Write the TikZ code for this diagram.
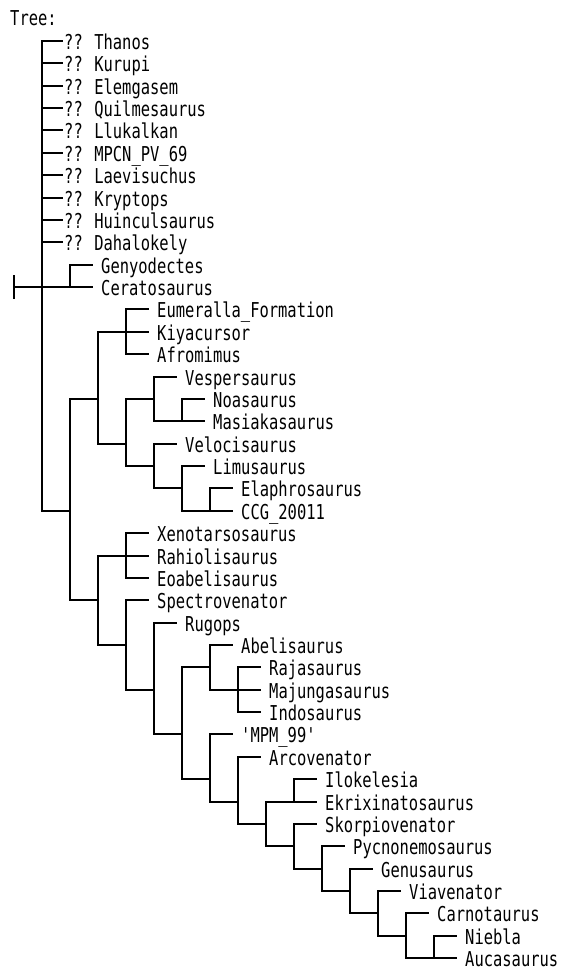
\documentclass[tikz,border=0pt]{standalone}
\usepackage{fontspec}
\newfontfamily\treefont[FakeStretch=0.754]{DejaVu Sans Mono}
\pgfmathdeclarefunction{rw}{1}{\pgfmathparse{round(41+22.37*#1)}}
\tikzset{
  br/.style={draw=black, line width=2pt, line cap=rect, line join=miter},
  leaf/.style={anchor=west, inner xsep=9pt, inner ysep=0pt, text height=18pt, text depth=2pt,
    font=\treefont\fontsize{20.5}{22}\selectfont},
  qleaf/.style={leaf, inner xsep=2pt},
  ttl/.style={anchor=base west, inner sep=0pt, font=\treefont\fontsize{20.5}{22}\selectfont}
}
\newcommand\lf[4]{\node[leaf] (#1) at ({#2+22},{rw(#3)}) {#4};}
\newcommand\ql[3]{\node[qleaf] (#1) at (62,{rw(#2)}) {??\hspace{11.5pt}#3};}
\begin{document}
\begin{tikzpicture}[x=1pt,y=-1pt]
\path[fill=white,use as bounding box] (0,0) rectangle (561,972);
\node[ttl] (title) at (10,25) {Tree:};
% internal nodes
\coordinate (nRoot) at (14,{rw(11)});
\coordinate (nA) at (42,{rw(11)});
\coordinate (nB) at (70,{rw(11)});
\coordinate (nC) at (70,{rw(21)});
\coordinate (nD) at (98,{rw(16)});
\coordinate (nF) at (126,{rw(13)});
\coordinate (nG) at (126,{rw(18)});
\coordinate (nH) at (154,{rw(16)});
\coordinate (nNM) at (182,{rw(17)});
\coordinate (nI) at (154,{rw(19)});
\coordinate (nJ) at (182,{rw(20)});
\coordinate (nK) at (210,{rw(21)});
\coordinate (nE) at (98,{rw(25)});
\coordinate (nL) at (126,{rw(23)});
\coordinate (nM) at (126,{rw(27)});
\coordinate (nN) at (154,{rw(29)});
\coordinate (nO) at (182,{rw(31)});
\coordinate (nP) at (210,{rw(28)});
\coordinate (nR) at (238,{rw(29)});
\coordinate (nQ) at (210,{rw(33)});
\coordinate (nS) at (238,{rw(34)});
\coordinate (nT) at (266,{rw(35)});
\coordinate (nU) at (294,{rw(34)});
\coordinate (nV) at (294,{rw(36)});
\coordinate (nW) at (322,{rw(37)});
\coordinate (nX) at (350,{rw(38)});
\coordinate (nY) at (378,{rw(39)});
\coordinate (nZ) at (406,{rw(40)});
\coordinate (nAA) at (434,{rw(41)});
\coordinate (tickA) at (14,{rw(11)-11});
\coordinate (tickB) at (14,{rw(11)+11});
% leaves
\ql{thanos}{0}{Thanos}
\ql{kurupi}{1}{Kurupi}
\ql{elemgasem}{2}{Elemgasem}
\ql{quilmesaurus}{3}{Quilmesaurus}
\ql{llukalkan}{4}{Llukalkan}
\ql{mpcn}{5}{MPCN\_PV\_69}
\ql{laevisuchus}{6}{Laevisuchus}
\ql{kryptops}{7}{Kryptops}
\ql{huinculsaurus}{8}{Huinculsaurus}
\ql{dahalokely}{9}{Dahalokely}
\lf{genyodectes}{70}{10}{Genyodectes}
\lf{ceratosaurus}{70}{11}{Ceratosaurus}
\lf{eumeralla}{126}{12}{Eumeralla\_Formation}
\lf{kiyacursor}{126}{13}{Kiyacursor}
\lf{afromimus}{126}{14}{Afromimus}
\lf{vespersaurus}{154}{15}{Vespersaurus}
\lf{noasaurus}{182}{16}{Noasaurus}
\lf{masiakasaurus}{182}{17}{Masiakasaurus}
\lf{velocisaurus}{154}{18}{Velocisaurus}
\lf{limusaurus}{182}{19}{Limusaurus}
\lf{elaphrosaurus}{210}{20}{Elaphrosaurus}
\lf{ccg}{210}{21}{CCG\_20011}
\lf{xenotarsosaurus}{126}{22}{Xenotarsosaurus}
\lf{rahiolisaurus}{126}{23}{Rahiolisaurus}
\lf{eoabelisaurus}{126}{24}{Eoabelisaurus}
\lf{spectrovenator}{126}{25}{Spectrovenator}
\lf{rugops}{154}{26}{Rugops}
\lf{abelisaurus}{210}{27}{Abelisaurus}
\lf{rajasaurus}{238}{28}{Rajasaurus}
\lf{majungasaurus}{238}{29}{Majungasaurus}
\lf{indosaurus}{238}{30}{Indosaurus}
\lf{mpm}{210}{31}{'MPM\_99'}
\lf{arcovenator}{238}{32}{Arcovenator}
\lf{ilokelesia}{294}{33}{Ilokelesia}
\lf{ekrixinatosaurus}{294}{34}{Ekrixinatosaurus}
\lf{skorpiovenator}{294}{35}{Skorpiovenator}
\lf{pycnonemosaurus}{322}{36}{Pycnonemosaurus}
\lf{genusaurus}{350}{37}{Genusaurus}
\lf{viavenator}{378}{38}{Viavenator}
\lf{carnotaurus}{406}{39}{Carnotaurus}
\lf{niebla}{434}{40}{Niebla}
\lf{aucasaurus}{434}{41}{Aucasaurus}
% connectors
\draw[br] (tickA) -- (tickB);
\draw[br] (nRoot) |- (nA);
\foreach \t in {thanos,kurupi,elemgasem,quilmesaurus,llukalkan,mpcn,laevisuchus,kryptops,huinculsaurus,dahalokely}
  {\draw[br] (nA) |- (\t.west);}
\draw[br] (nA) |- (nB);
\draw[br] (nA) |- (nC);
\draw[br] (nB) |- (genyodectes.west);
\draw[br] (nB) |- (ceratosaurus.west);
\draw[br] (nC) |- (nD);
\draw[br] (nC) |- (nE);
\draw[br] (nD) |- (nF);
\draw[br] (nD) |- (nG);
\draw[br] (nF) |- (eumeralla.west);
\draw[br] (nF) |- (kiyacursor.west);
\draw[br] (nF) |- (afromimus.west);
\draw[br] (nG) |- (nH);
\draw[br] (nG) |- (nI);
\draw[br] (nH) |- (vespersaurus.west);
\draw[br] (nH) |- (nNM);
\draw[br] (nNM) |- (noasaurus.west);
\draw[br] (nNM) |- (masiakasaurus.west);
\draw[br] (nI) |- (velocisaurus.west);
\draw[br] (nI) |- (nJ);
\draw[br] (nJ) |- (limusaurus.west);
\draw[br] (nJ) |- (nK);
\draw[br] (nK) |- (elaphrosaurus.west);
\draw[br] (nK) |- (ccg.west);
\draw[br] (nE) |- (nL);
\draw[br] (nE) |- (nM);
\draw[br] (nL) |- (xenotarsosaurus.west);
\draw[br] (nL) |- (rahiolisaurus.west);
\draw[br] (nL) |- (eoabelisaurus.west);
\draw[br] (nM) |- (spectrovenator.west);
\draw[br] (nM) |- (nN);
\draw[br] (nN) |- (rugops.west);
\draw[br] (nN) |- (nO);
\draw[br] (nO) |- (nP);
\draw[br] (nO) |- (nQ);
\draw[br] (nP) |- (abelisaurus.west);
\draw[br] (nP) |- (nR);
\draw[br] (nR) |- (rajasaurus.west);
\draw[br] (nR) |- (majungasaurus.west);
\draw[br] (nR) |- (indosaurus.west);
\draw[br] (nQ) |- (mpm.west);
\draw[br] (nQ) |- (nS);
\draw[br] (nS) |- (arcovenator.west);
\draw[br] (nS) |- (nT);
\draw[br] (nT) |- (nU);
\draw[br] (nT) |- (nV);
\draw[br] (nU) |- (ilokelesia.west);
\draw[br] (nU) |- (ekrixinatosaurus.west);
\draw[br] (nV) |- (skorpiovenator.west);
\draw[br] (nV) |- (nW);
\draw[br] (nW) |- (pycnonemosaurus.west);
\draw[br] (nW) |- (nX);
\draw[br] (nX) |- (genusaurus.west);
\draw[br] (nX) |- (nY);
\draw[br] (nY) |- (viavenator.west);
\draw[br] (nY) |- (nZ);
\draw[br] (nZ) |- (carnotaurus.west);
\draw[br] (nZ) |- (nAA);
\draw[br] (nAA) |- (niebla.west);
\draw[br] (nAA) |- (aucasaurus.west);
\end{tikzpicture}
\end{document}
